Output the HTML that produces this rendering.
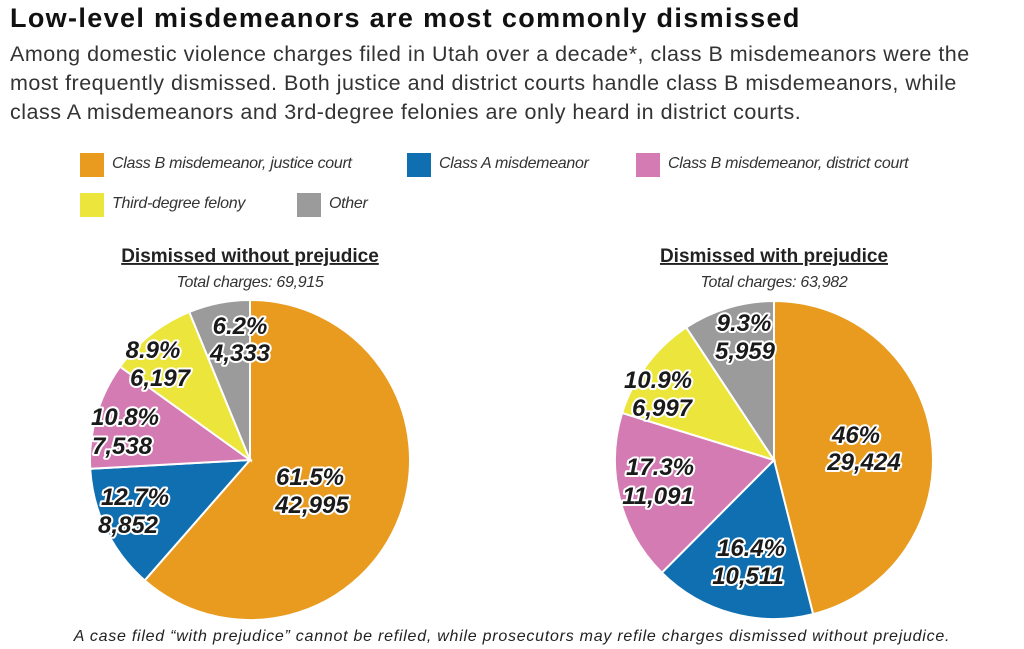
<!DOCTYPE html>
<html><head><meta charset="utf-8"><style>
body{margin:0;background:#fff;width:1024px;height:649px;overflow:hidden;font-family:"Liberation Sans",sans-serif;color:#222}
.t{position:absolute;left:10px;top:3px;font-size:27px;font-weight:bold;color:#111;letter-spacing:1.35px;white-space:nowrap}
.s{position:absolute;left:10px;top:40px;font-size:21.5px;line-height:29px;color:#333;white-space:nowrap;letter-spacing:0.5px}
.lg{position:absolute;font-style:italic;font-size:16px;color:#333;letter-spacing:-0.3px}
.sq{position:absolute;width:24px;height:24px}
</style></head><body>
<div class="t">Low-level misdemeanors are most commonly dismissed</div>
<div class="s">Among domestic violence charges filed in Utah over a decade*, class B misdemeanors were the<br>most frequently dismissed. Both justice and district courts handle class B misdemeanors, while<br>class A misdemeanors and 3rd-degree felonies are only heard in district courts.</div>
<div class="sq" style="left:80px;top:153px;background:#e89b1f"></div><div class="lg" style="left:112px;top:155px">Class B misdemeanor, justice court</div>
<div class="sq" style="left:407px;top:153px;background:#0f6fb0"></div><div class="lg" style="left:439px;top:155px">Class A misdemeanor</div>
<div class="sq" style="left:636px;top:153px;background:#d47bb3"></div><div class="lg" style="left:668px;top:155px">Class B misdemeanor, district court</div>
<div class="sq" style="left:80px;top:193px;background:#ece63c"></div><div class="lg" style="left:112px;top:195px">Third-degree felony</div>
<div class="sq" style="left:297px;top:193px;background:#9b9b9b"></div><div class="lg" style="left:329px;top:195px">Other</div>
<svg id="sv" width="1024" height="649" style="position:absolute;left:0;top:0">
<g font-family="Liberation Sans,sans-serif" text-anchor="middle">
<text x="250" y="262" font-size="19" font-weight="bold" text-decoration="underline" fill="#222">Dismissed without prejudice</text>
<text x="250" y="287" font-size="16" font-style="italic" fill="#333" letter-spacing="-0.3">Total charges: 69,915</text>
<text x="774" y="262" font-size="19" font-weight="bold" text-decoration="underline" fill="#222">Dismissed with prejudice</text>
<text x="774" y="287" font-size="16" font-style="italic" fill="#333" letter-spacing="-0.3">Total charges: 63,982</text>
<text x="512" y="641" font-size="16" font-style="italic" fill="#222" letter-spacing="0.75">A case filed “with prejudice” cannot be refiled, while prosecutors may refile charges dismissed without prejudice.</text>
</g>
<g id="pies"></g>
<g id="lbl" font-family="Liberation Sans,sans-serif" font-size="24" font-weight="bold" font-style="italic" text-anchor="middle" fill="#1a1a1a" stroke="#fff" stroke-width="4" paint-order="stroke" stroke-linejoin="round"></g>
</svg>
<script>
var C=["#e89b1f","#0f6fb0","#d47bb3","#ece63c","#9b9b9b"];
function pie(cx,cy,r,v){var a=0,s="",tot=v.reduce((x,y)=>x+y);
v.forEach(function(p,i){var b=a+p/tot*2*Math.PI;
var x1=cx+r*Math.sin(a),y1=cy-r*Math.cos(a),x2=cx+r*Math.sin(b),y2=cy-r*Math.cos(b);
s+='<path d="M'+cx+','+cy+'L'+x1+','+y1+'A'+r+','+r+' 0 '+(b-a>Math.PI?1:0)+' 1 '+x2+','+y2+'Z" fill="'+C[i]+'" stroke="#fff" stroke-width="2"/>';a=b;});return s;}
document.getElementById("pies").innerHTML=pie(250,460,160,[61.5,12.7,10.8,8.9,6.2])+pie(774,460,159,[46,16.4,17.3,10.9,9.3]);
var L=[[310,485,"61.5%"],[312,513,"42,995"],[135,505,"12.7%"],[128,533,"8,852"],[125,425,"10.8%"],[122,454,"7,538"],[153,358,"8.9%"],[160,386,"6,197"],[240,334,"6.2%"],[240,361,"4,333"],
[856,443,"46%"],[864,470,"29,424"],[751,556,"16.4%"],[748,584,"10,511"],[660,475,"17.3%"],[658,504,"11,091"],[658,388,"10.9%"],[662,416,"6,997"],[744,331,"9.3%"],[745,359,"5,959"]];
document.getElementById("lbl").innerHTML=L.map(l=>'<text x="'+l[0]+'" y="'+l[1]+'">'+l[2]+'</text>').join("");
</script>
</body></html>
